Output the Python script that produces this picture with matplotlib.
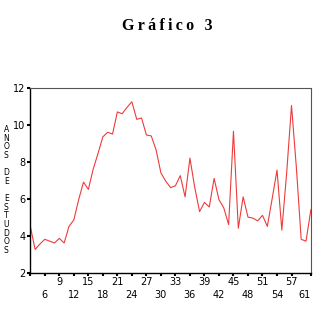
import matplotlib
matplotlib.use('Agg')
import matplotlib.pyplot as plt
import numpy as np

# Data: anos de estudo por idade
idades = list(range(3, 62))
anos_estudo = [4.5, 3.25, 3.55, 3.8, 3.7, 3.6, 3.85, 3.6, 4.5, 4.85,
               5.95, 6.9, 6.5, 7.6, 8.45, 9.35, 9.6, 9.5, 10.7, 10.6,
               10.95, 11.25, 10.3, 10.37, 9.45, 9.4, 8.65, 7.4, 6.95, 6.6,
               6.7, 7.25, 6.1, 8.2, 6.6, 5.3, 5.8, 5.55, 7.1, 5.95,
               5.5, 4.6, 9.65, 4.4, 6.1, 5.0, 4.95, 4.8, 5.1, 4.5,
               6.0, 7.55, 4.3, 7.4, 11.05, 7.7, 3.8, 3.7, 5.4]
tick_pos = list(range(3, 58, 3)) + [61]
tick_txt = ['', '6', '9', '12', '15', '18', '21', '24', '27', '30', '33',
            '36', '39', '42', '45', '48', '51', '54', '57', '61']
y_ticks = [2, 4, 6, 8, 10, 12]

fig = plt.figure(figsize=(3.14, 3.14), dpi=100)
ax = fig.add_axes([0.0965, 0.132, 0.8935, 0.588])

ax.plot(idades, anos_estudo, color='#ee3b3b', linewidth=0.8)

ax.set_xlim(3, 61)
ax.set_ylim(2, 12)
ax.set_yticks(y_ticks)
ax.set_yticklabels([str(v) for v in y_ticks], fontsize=7)

# staggered x labels (alternating rows)
labels = [t if i % 2 == 0 else '\n' + t for i, t in enumerate(tick_txt)]
ax.set_xticks(tick_pos)
tl = ax.set_xticklabels(labels, fontsize=7, linespacing=1.35)
tl[-1].set_horizontalalignment('right')

ax.tick_params(axis='both', direction='out', length=2, width=1.5, pad=1.5)
for s in ['left', 'bottom']:
    ax.spines[s].set_linewidth(1.0)
    ax.spines[s].set_color('black')
for s in ['top', 'right']:
    ax.spines[s].set_linewidth(0.8)
    ax.spines[s].set_color('#555555')

titulo = '\u2009'.join('Gráfico') + '\u2009 \u20093'
fig.text(0.532, 0.918, titulo, ha='center', va='center',
         fontsize=11.5, fontweight='bold', family=['Liberation Serif', 'DejaVu Serif'])

ylabel = '\n'.join('ANOS') + '\n\n' + '\n'.join('DE') + '\n\n' + '\n'.join('ESTUDOS')
fig.text(0.02, 0.395, ylabel, ha='center', va='center', fontsize=5.5,
         linespacing=0.95)

fig.savefig('out.png', dpi=100, facecolor='white')
